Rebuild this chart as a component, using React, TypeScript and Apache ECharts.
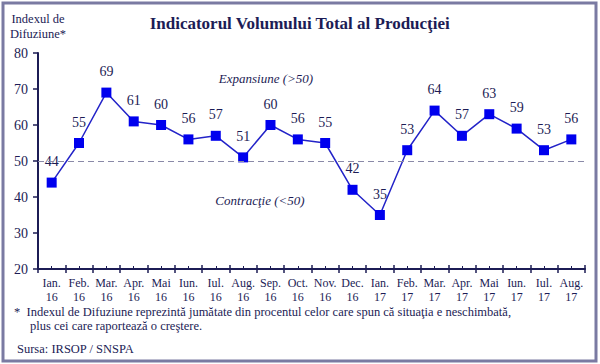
import React, { useEffect, useRef } from "react";
import * as echarts from "echarts";

const months = ["Ian.", "Feb.", "Mar.", "Apr.", "Mai", "Iun.", "Iul.", "Aug.", "Sep.", "Oct.", "Nov.", "Dec.", "Ian.", "Feb.", "Mar.", "Apr.", "Mai", "Iun.", "Iul.", "Aug."];
const years = ["16", "16", "16", "16", "16", "16", "16", "16", "16", "16", "16", "16", "17", "17", "17", "17", "17", "17", "17", "17"];
const values = [44, 55, 69, 61, 60, 56, 57, 51, 60, 56, 55, 42, 35, 53, 64, 57, 63, 59, 53, 56];
const yTicks = { min: 20, max: 80, interval: 10 };
const threshold = 50;

const TITLE = "Indicatorul Volumului Total al Producţiei";
const YNAME = "Indexul de\nDifuziune*";
const EXP = "Expansiune (>50)";
const CON = "Contracţie (<50)";
const NOTE1 = "*  Indexul de Difuziune reprezintă jumătate din procentul celor care spun că situaţia e neschimbată,";
const NOTE2 = "plus cei care raportează o creştere.";
const SOURCE = "Sursa: IRSOP / SNSPA";

const NAVY = "#1c1c55";
const FONT = "Liberation Serif";

export default function App() {
  const ref = useRef<HTMLDivElement>(null);
  useEffect(() => {
    if (!ref.current) return;
    const chart = echarts.init(ref.current, undefined, { renderer: "svg" });
    const cats = months.map((m, i) => m + "\n" + years[i]);
    const baseX = {
      type: "category",
      data: cats,
      boundaryGap: true,
      position: "bottom",
    };
    const txt = (size: number, extra: any = {}) => ({ fontFamily: FONT, fontSize: size, fill: NAVY, ...extra });
    chart.setOption({
      animation: false,
      backgroundColor: "#ffffff",
      textStyle: { fontFamily: FONT },
      grid: { left: 38, right: 15, top: 53, bottom: 95 },
      xAxis: [
        {
          ...baseX,
          axisLine: { show: true, lineStyle: { color: NAVY, width: 2 } },
          axisTick: { show: true, interval: 0, inside: false, length: 4, lineStyle: { color: NAVY, width: 1.5 } },
          axisLabel: {
            interval: 0,
            color: NAVY,
            fontFamily: FONT,
            fontSize: 12,
            lineHeight: 14,
            margin: 7,
          },
        },
        {
          ...baseX,
          axisLine: { show: false },
          axisTick: { show: true, interval: 0, inside: true, length: 4, lineStyle: { color: NAVY, width: 1.5 } },
          axisLabel: { show: false },
        },
        {
          ...baseX,
          axisLine: { show: false },
          axisTick: { show: true, interval: 0, inside: true, alignWithLabel: true, length: 3, lineStyle: { color: NAVY, width: 1 } },
          axisLabel: { show: false },
        },
      ],
      yAxis: {
        type: "value",
        min: yTicks.min,
        max: yTicks.max,
        interval: yTicks.interval,
        splitLine: { show: false },
        axisLine: { show: true, lineStyle: { color: NAVY, width: 2 } },
        axisTick: { show: true, length: 5, lineStyle: { color: NAVY, width: 1.5 } },
        axisLabel: { color: NAVY, fontFamily: FONT, fontSize: 14, margin: 10 },
      },
      series: [
        {
          type: "line",
          data: values,
          xAxisIndex: 0,
          symbol: "rect",
          symbolSize: 10,
          lineStyle: { color: "#2323c8", width: 1.5 },
          itemStyle: { color: "#0000ee" },
          label: {
            show: true,
            position: "top",
            distance: 9,
            color: NAVY,
            fontFamily: FONT,
            fontSize: 14,
          },
          markLine: {
            silent: true,
            symbol: ["none", "none"],
            label: { show: false },
            lineStyle: { color: "#8a8aa8", type: [6, 4], width: 1.2 },
            data: [{ yAxis: threshold }],
          },
          z: 3,
        },
      ],
      graphic: [
        {
          type: "rect",
          shape: { x: 3, y: 3, width: 593, height: 358 },
          style: { fill: "none", stroke: "#7a7aa2", lineWidth: 3 },
          silent: true,
        },
        {
          type: "text",
          left: "center",
          top: 15,
          style: txt(17, { fontWeight: "bold", text: TITLE }),
        },
        {
          type: "text",
          x: 38,
          y: 11,
          style: txt(12.5, { text: YNAME, textAlign: "center", lineHeight: 15 }),
        },
        {
          type: "text",
          x: 266,
          y: 72,
          style: txt(13, { fontStyle: "italic", text: EXP, textAlign: "center" }),
        },
        {
          type: "text",
          x: 260,
          y: 194,
          style: txt(13, { fontStyle: "italic", text: CON, textAlign: "center" }),
        },
        {
          type: "text",
          x: 14,
          y: 305,
          style: txt(12.5, { text: NOTE1 }),
        },
        {
          type: "text",
          x: 30,
          y: 319,
          style: txt(12.5, { text: NOTE2 }),
        },
        {
          type: "text",
          x: 17,
          y: 342,
          style: txt(12.5, { text: SOURCE }),
        },
      ],
    });
    return () => chart.dispose();
  }, []);
  return (
    <div
      ref={ref}
      style={{ position: "fixed", left: 0, top: 0, width: 600, height: 364 }}
    />
  );
}
